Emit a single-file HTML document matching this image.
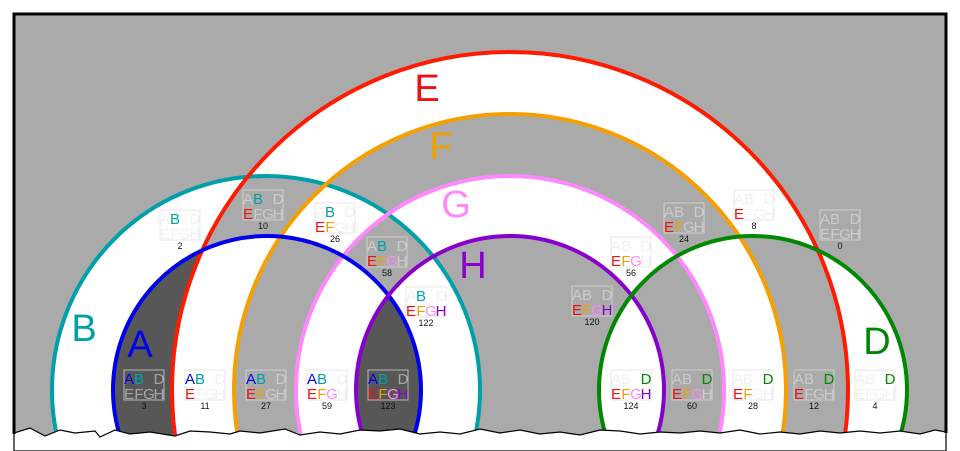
<!DOCTYPE html>
<html><head><meta charset="utf-8"><style>
html,body{margin:0;padding:0;background:#fff;width:960px;height:451px;overflow:hidden;}
svg{display:block;font-family:"Liberation Sans",sans-serif;}
.bx{fill:none;stroke:#ddd;stroke-width:1;opacity:.7}
.l{font-size:15px;text-anchor:middle}
.n{font-size:9px;text-anchor:middle;fill:#111}
.o{fill:#e6e6e6;opacity:.55}
.a{fill:#0000ee}.b{fill:#00a0aa}.d{fill:#008800}.e{fill:#ee1111}.f{fill:#f0a000}.g{fill:#ff88ff}.h{fill:#8800cc}
.big{font-size:38px;text-anchor:middle}
</style></head><body>
<svg width="960" height="451" viewBox="0 0 960 451" xmlns="http://www.w3.org/2000/svg">
<defs><clipPath id="c"><rect x="14" y="14" width="932" height="437"/></clipPath>
<clipPath id="ca"><circle cx="267" cy="390" r="154"/></clipPath></defs>
<rect x="0" y="0" width="960" height="451" fill="#fff"/>
<g clip-path="url(#c)">
<rect x="14" y="14" width="932" height="437" fill="#aaaaaa"/>
<path fill="#fff" fill-rule="evenodd" d="
M113,390 a154,154 0 1,0 308,0 a154,154 0 1,0 -308,0 Z
M52,390 a214,214 0 1,0 428,0 a214,214 0 1,0 -428,0 Z
M172,390 a338,338 0 1,0 676,0 a338,338 0 1,0 -676,0 Z
M234,390 a276,276 0 1,0 552,0 a276,276 0 1,0 -552,0 Z
M296,390 a214,214 0 1,0 428,0 a214,214 0 1,0 -428,0 Z
M356,390 a154,154 0 1,0 308,0 a154,154 0 1,0 -308,0 Z
M599,390 a154,154 0 1,0 308,0 a154,154 0 1,0 -308,0 Z"/>
<g clip-path="url(#ca)" fill="#575757">
<circle cx="510" cy="390" r="154"/>
<path fill-rule="evenodd" d="M0,0 H960 V451 H0 Z M172,390 a338,338 0 1,0 676,0 a338,338 0 1,0 -676,0 Z"/>
</g>
<g fill="none" stroke-width="4">
<circle cx="266" cy="390" r="214" stroke="#00a0aa"/>
<circle cx="510" cy="390" r="338" stroke="#ff1a00"/>
<circle cx="510" cy="390" r="276" stroke="#f5a000"/>
<circle cx="510" cy="390" r="214" stroke="#ff88ff"/>
<circle cx="267" cy="390" r="154" stroke="#0000ee"/>
<circle cx="510" cy="390" r="154" stroke="#8800cc"/>
<circle cx="753" cy="390" r="154" stroke="#008800"/>
</g>
</g>
<polygon fill="#fff" stroke="#000" stroke-width="1.2" points="14,433 30,428 45,436 60,430 75,433 95,431 100,437 115,430 130,434 150,432 175,436 190,431 210,432 230,434 240,431 260,433 285,429 300,435 320,432 340,434 360,430 380,431 400,429 420,434 440,432 460,434 480,429 500,433 520,430 540,434 560,432 580,435 600,430 620,431 640,434 660,432 680,433 700,431 720,433 740,430 760,434 780,432 800,434 820,431 840,433 860,431 880,433 900,431 920,434 935,430 946,432 946,451 14,451"/>
<path d="M14,434 V14 H946 V433" fill="none" stroke="#000" stroke-width="3"/>
<text class="big e" x="427" y="101">E</text>
<text class="big f" x="441" y="159">F</text>
<text class="big g" x="456" y="217">G</text>
<text class="big h" x="473" y="278">H</text>
<text class="big b" x="84" y="341">B</text>
<text class="big a" x="140" y="357">A</text>
<text class="big d" x="877" y="354">D</text>

<g transform="translate(160,210)"><rect class="bx" width="40" height="30"/><text class="l" y="14"><tspan x="5" class="o">A</tspan><tspan x="15" class="b">B</tspan><tspan x="35" class="o">D</tspan></text><text class="l" y="29"><tspan x="5" class="o">E</tspan><tspan x="15" class="o">F</tspan><tspan x="25" class="o">G</tspan><tspan x="35" class="o">H</tspan></text><text class="n" x="20" y="39">2</text></g>
<g transform="translate(243,190)"><rect class="bx" width="40" height="30"/><text class="l" y="14"><tspan x="5" class="o">A</tspan><tspan x="15" class="b">B</tspan><tspan x="35" class="o">D</tspan></text><text class="l" y="29"><tspan x="5" class="e">E</tspan><tspan x="15" class="o">F</tspan><tspan x="25" class="o">G</tspan><tspan x="35" class="o">H</tspan></text><text class="n" x="20" y="39">10</text></g>
<g transform="translate(315,203)"><rect class="bx" width="40" height="30"/><text class="l" y="14"><tspan x="5" class="o">A</tspan><tspan x="15" class="b">B</tspan><tspan x="35" class="o">D</tspan></text><text class="l" y="29"><tspan x="5" class="e">E</tspan><tspan x="15" class="f">F</tspan><tspan x="25" class="o">G</tspan><tspan x="35" class="o">H</tspan></text><text class="n" x="20" y="39">26</text></g>
<g transform="translate(367,237)"><rect class="bx" width="40" height="30"/><text class="l" y="14"><tspan x="5" class="o">A</tspan><tspan x="15" class="b">B</tspan><tspan x="35" class="o">D</tspan></text><text class="l" y="29"><tspan x="5" class="e">E</tspan><tspan x="15" class="f">F</tspan><tspan x="25" class="g">G</tspan><tspan x="35" class="o">H</tspan></text><text class="n" x="20" y="39">58</text></g>
<g transform="translate(406,287)"><rect class="bx" width="40" height="30"/><text class="l" y="14"><tspan x="5" class="o">A</tspan><tspan x="15" class="b">B</tspan><tspan x="35" class="o">D</tspan></text><text class="l" y="29"><tspan x="5" class="e">E</tspan><tspan x="15" class="f">F</tspan><tspan x="25" class="g">G</tspan><tspan x="35" class="h">H</tspan></text><text class="n" x="20" y="39">122</text></g>
<g transform="translate(124,370)"><rect class="bx" width="40" height="30"/><text class="l" y="14"><tspan x="5" class="a">A</tspan><tspan x="15" class="b">B</tspan><tspan x="35" class="o">D</tspan></text><text class="l" y="29"><tspan x="5" class="o">E</tspan><tspan x="15" class="o">F</tspan><tspan x="25" class="o">G</tspan><tspan x="35" class="o">H</tspan></text><text class="n" x="20" y="39">3</text></g>
<g transform="translate(185,370)"><rect class="bx" width="40" height="30"/><text class="l" y="14"><tspan x="5" class="a">A</tspan><tspan x="15" class="b">B</tspan><tspan x="35" class="o">D</tspan></text><text class="l" y="29"><tspan x="5" class="e">E</tspan><tspan x="15" class="o">F</tspan><tspan x="25" class="o">G</tspan><tspan x="35" class="o">H</tspan></text><text class="n" x="20" y="39">11</text></g>
<g transform="translate(246,370)"><rect class="bx" width="40" height="30"/><text class="l" y="14"><tspan x="5" class="a">A</tspan><tspan x="15" class="b">B</tspan><tspan x="35" class="o">D</tspan></text><text class="l" y="29"><tspan x="5" class="e">E</tspan><tspan x="15" class="f">F</tspan><tspan x="25" class="o">G</tspan><tspan x="35" class="o">H</tspan></text><text class="n" x="20" y="39">27</text></g>
<g transform="translate(307,370)"><rect class="bx" width="40" height="30"/><text class="l" y="14"><tspan x="5" class="a">A</tspan><tspan x="15" class="b">B</tspan><tspan x="35" class="o">D</tspan></text><text class="l" y="29"><tspan x="5" class="e">E</tspan><tspan x="15" class="f">F</tspan><tspan x="25" class="g">G</tspan><tspan x="35" class="o">H</tspan></text><text class="n" x="20" y="39">59</text></g>
<g transform="translate(368,370)"><rect class="bx" width="40" height="30"/><text class="l" y="14"><tspan x="5" class="a">A</tspan><tspan x="15" class="b">B</tspan><tspan x="35" class="o">D</tspan></text><text class="l" y="29"><tspan x="5" class="e">E</tspan><tspan x="15" class="f">F</tspan><tspan x="25" class="g">G</tspan><tspan x="35" class="h">H</tspan></text><text class="n" x="20" y="39">123</text></g>
<g transform="translate(611,370)"><rect class="bx" width="40" height="30"/><text class="l" y="14"><tspan x="5" class="o">A</tspan><tspan x="15" class="o">B</tspan><tspan x="35" class="d">D</tspan></text><text class="l" y="29"><tspan x="5" class="e">E</tspan><tspan x="15" class="f">F</tspan><tspan x="25" class="g">G</tspan><tspan x="35" class="h">H</tspan></text><text class="n" x="20" y="39">124</text></g>
<g transform="translate(672,370)"><rect class="bx" width="40" height="30"/><text class="l" y="14"><tspan x="5" class="o">A</tspan><tspan x="15" class="o">B</tspan><tspan x="35" class="d">D</tspan></text><text class="l" y="29"><tspan x="5" class="e">E</tspan><tspan x="15" class="f">F</tspan><tspan x="25" class="g">G</tspan><tspan x="35" class="o">H</tspan></text><text class="n" x="20" y="39">60</text></g>
<g transform="translate(733,370)"><rect class="bx" width="40" height="30"/><text class="l" y="14"><tspan x="5" class="o">A</tspan><tspan x="15" class="o">B</tspan><tspan x="35" class="d">D</tspan></text><text class="l" y="29"><tspan x="5" class="e">E</tspan><tspan x="15" class="f">F</tspan><tspan x="25" class="o">G</tspan><tspan x="35" class="o">H</tspan></text><text class="n" x="20" y="39">28</text></g>
<g transform="translate(794,370)"><rect class="bx" width="40" height="30"/><text class="l" y="14"><tspan x="5" class="o">A</tspan><tspan x="15" class="o">B</tspan><tspan x="35" class="d">D</tspan></text><text class="l" y="29"><tspan x="5" class="e">E</tspan><tspan x="15" class="o">F</tspan><tspan x="25" class="o">G</tspan><tspan x="35" class="o">H</tspan></text><text class="n" x="20" y="39">12</text></g>
<g transform="translate(855,370)"><rect class="bx" width="40" height="30"/><text class="l" y="14"><tspan x="5" class="o">A</tspan><tspan x="15" class="o">B</tspan><tspan x="35" class="d">D</tspan></text><text class="l" y="29"><tspan x="5" class="o">E</tspan><tspan x="15" class="o">F</tspan><tspan x="25" class="o">G</tspan><tspan x="35" class="o">H</tspan></text><text class="n" x="20" y="39">4</text></g>
<g transform="translate(572,286)"><rect class="bx" width="40" height="30"/><text class="l" y="14"><tspan x="5" class="o">A</tspan><tspan x="15" class="o">B</tspan><tspan x="35" class="o">D</tspan></text><text class="l" y="29"><tspan x="5" class="e">E</tspan><tspan x="15" class="f">F</tspan><tspan x="25" class="g">G</tspan><tspan x="35" class="h">H</tspan></text><text class="n" x="20" y="39">120</text></g>
<g transform="translate(611,237)"><rect class="bx" width="40" height="30"/><text class="l" y="14"><tspan x="5" class="o">A</tspan><tspan x="15" class="o">B</tspan><tspan x="35" class="o">D</tspan></text><text class="l" y="29"><tspan x="5" class="e">E</tspan><tspan x="15" class="f">F</tspan><tspan x="25" class="g">G</tspan><tspan x="35" class="o">H</tspan></text><text class="n" x="20" y="39">56</text></g>
<g transform="translate(664,203)"><rect class="bx" width="40" height="30"/><text class="l" y="14"><tspan x="5" class="o">A</tspan><tspan x="15" class="o">B</tspan><tspan x="35" class="o">D</tspan></text><text class="l" y="29"><tspan x="5" class="e">E</tspan><tspan x="15" class="f">F</tspan><tspan x="25" class="o">G</tspan><tspan x="35" class="o">H</tspan></text><text class="n" x="20" y="39">24</text></g>
<g transform="translate(734,190)"><rect class="bx" width="40" height="30"/><text class="l" y="14"><tspan x="5" class="o">A</tspan><tspan x="15" class="o">B</tspan><tspan x="35" class="o">D</tspan></text><text class="l" y="29"><tspan x="5" class="e">E</tspan><tspan x="15" class="o">F</tspan><tspan x="25" class="o">G</tspan><tspan x="35" class="o">H</tspan></text><text class="n" x="20" y="39">8</text></g>
<g transform="translate(820,210)"><rect class="bx" width="40" height="30"/><text class="l" y="14"><tspan x="5" class="o">A</tspan><tspan x="15" class="o">B</tspan><tspan x="35" class="o">D</tspan></text><text class="l" y="29"><tspan x="5" class="o">E</tspan><tspan x="15" class="o">F</tspan><tspan x="25" class="o">G</tspan><tspan x="35" class="o">H</tspan></text><text class="n" x="20" y="39">0</text></g>
</svg>
</body></html>
